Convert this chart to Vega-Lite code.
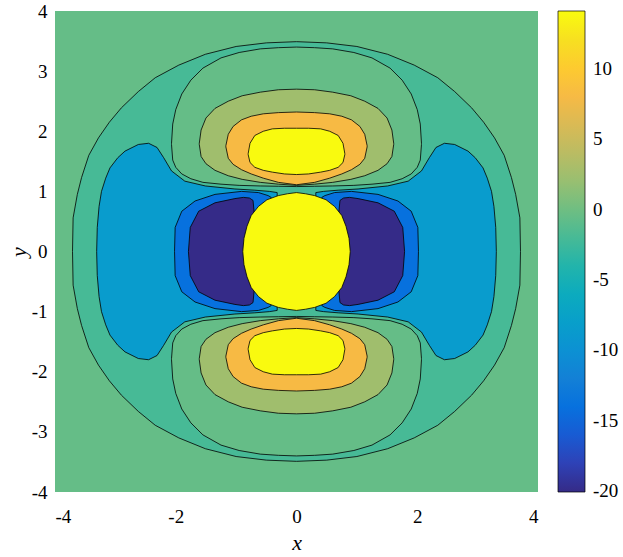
{
"$schema": "https://vega.github.io/schema/vega-lite/v6.json",
"autosize": {"type": "none"},
"padding": {"left": 55, "top": 11, "right": 85, "bottom": 65},
"width": 483,
"height": 481,
"background": "white",
"config": {
  "view": {"stroke": null},
  "axis": {"domain": false, "ticks": false, "grid": false, "labelFont": "Liberation Serif", "labelFontSize": 19, "labelColor": "black", "titleFont": "Liberation Serif", "titleFontStyle": "italic", "titleFontWeight": "normal", "titleFontSize": 22, "titleColor": "black", "labelExpr": "toString(datum.value)"},
  "legend": {"gradientVerticalMaxLength": 481}
},
"datasets": {
"c": [
{"g":"bg","v":-0.5,"x":-4,"y":4,"y2":-4},
{"g":"bg","v":-0.5,"x":4,"y":4,"y2":-4},

{"g":"outer","v":-2,"x":-3.71,"y":0,"y2":0},
{"g":"outer","v":-2,"x":-3.70,"y":0.56,"y2":-0.56},
{"g":"outer","v":-2,"x":-3.63,"y":0.95,"y2":-0.95},
{"g":"outer","v":-2,"x":-3.56,"y":1.23,"y2":-1.23},
{"g":"outer","v":-2,"x":-3.44,"y":1.60,"y2":-1.60},
{"g":"outer","v":-2,"x":-3.28,"y":1.89,"y2":-1.89},
{"g":"outer","v":-2,"x":-3.10,"y":2.15,"y2":-2.15},
{"g":"outer","v":-2,"x":-2.90,"y":2.39,"y2":-2.39},
{"g":"outer","v":-2,"x":-2.62,"y":2.66,"y2":-2.66},
{"g":"outer","v":-2,"x":-2.34,"y":2.89,"y2":-2.89},
{"g":"outer","v":-2,"x":-1.95,"y":3.10,"y2":-3.10},
{"g":"outer","v":-2,"x":-1.51,"y":3.28,"y2":-3.28},
{"g":"outer","v":-2,"x":-1.00,"y":3.41,"y2":-3.41},
{"g":"outer","v":-2,"x":-0.50,"y":3.47,"y2":-3.47},
{"g":"outer","v":-2,"x":0,"y":3.49,"y2":-3.49},
{"g":"outer","v":-2,"x":0.50,"y":3.47,"y2":-3.47},
{"g":"outer","v":-2,"x":1.00,"y":3.41,"y2":-3.41},
{"g":"outer","v":-2,"x":1.51,"y":3.28,"y2":-3.28},
{"g":"outer","v":-2,"x":1.95,"y":3.10,"y2":-3.10},
{"g":"outer","v":-2,"x":2.34,"y":2.89,"y2":-2.89},
{"g":"outer","v":-2,"x":2.62,"y":2.66,"y2":-2.66},
{"g":"outer","v":-2,"x":2.90,"y":2.39,"y2":-2.39},
{"g":"outer","v":-2,"x":3.10,"y":2.15,"y2":-2.15},
{"g":"outer","v":-2,"x":3.28,"y":1.89,"y2":-1.89},
{"g":"outer","v":-2,"x":3.44,"y":1.60,"y2":-1.60},
{"g":"outer","v":-2,"x":3.56,"y":1.23,"y2":-1.23},
{"g":"outer","v":-2,"x":3.63,"y":0.95,"y2":-0.95},
{"g":"outer","v":-2,"x":3.70,"y":0.56,"y2":-0.56},
{"g":"outer","v":-2,"x":3.71,"y":0,"y2":0},

{"g":"grn_t","v":-0.5,"x":-2.07,"y":1.80,"y2":1.78},
{"g":"grn_t","v":-0.5,"x":-2.05,"y":2.12,"y2":1.52},
{"g":"grn_t","v":-0.5,"x":-2.00,"y":2.36,"y2":1.40},
{"g":"grn_t","v":-0.5,"x":-1.90,"y":2.62,"y2":1.29},
{"g":"grn_t","v":-0.5,"x":-1.75,"y":2.85,"y2":1.21},
{"g":"grn_t","v":-0.5,"x":-1.55,"y":3.05,"y2":1.15},
{"g":"grn_t","v":-0.5,"x":-1.25,"y":3.22,"y2":1.12},
{"g":"grn_t","v":-0.5,"x":-0.95,"y":3.31,"y2":1.10},
{"g":"grn_t","v":-0.5,"x":-0.60,"y":3.37,"y2":1.09},
{"g":"grn_t","v":-0.5,"x":-0.30,"y":3.39,"y2":1.085},
{"g":"grn_t","v":-0.5,"x":0,"y":3.40,"y2":1.08},
{"g":"grn_t","v":-0.5,"x":0.30,"y":3.39,"y2":1.085},
{"g":"grn_t","v":-0.5,"x":0.60,"y":3.37,"y2":1.09},
{"g":"grn_t","v":-0.5,"x":0.95,"y":3.31,"y2":1.10},
{"g":"grn_t","v":-0.5,"x":1.25,"y":3.22,"y2":1.12},
{"g":"grn_t","v":-0.5,"x":1.55,"y":3.05,"y2":1.15},
{"g":"grn_t","v":-0.5,"x":1.75,"y":2.85,"y2":1.21},
{"g":"grn_t","v":-0.5,"x":1.90,"y":2.62,"y2":1.29},
{"g":"grn_t","v":-0.5,"x":2.00,"y":2.36,"y2":1.40},
{"g":"grn_t","v":-0.5,"x":2.05,"y":2.12,"y2":1.52},
{"g":"grn_t","v":-0.5,"x":2.07,"y":1.80,"y2":1.78},

{"g":"grn_b","v":-0.5,"x":-2.07,"y":-1.78,"y2":-1.80},
{"g":"grn_b","v":-0.5,"x":-2.05,"y":-1.52,"y2":-2.12},
{"g":"grn_b","v":-0.5,"x":-2.00,"y":-1.40,"y2":-2.36},
{"g":"grn_b","v":-0.5,"x":-1.90,"y":-1.29,"y2":-2.62},
{"g":"grn_b","v":-0.5,"x":-1.75,"y":-1.21,"y2":-2.85},
{"g":"grn_b","v":-0.5,"x":-1.55,"y":-1.15,"y2":-3.05},
{"g":"grn_b","v":-0.5,"x":-1.25,"y":-1.12,"y2":-3.22},
{"g":"grn_b","v":-0.5,"x":-0.95,"y":-1.10,"y2":-3.31},
{"g":"grn_b","v":-0.5,"x":-0.60,"y":-1.09,"y2":-3.37},
{"g":"grn_b","v":-0.5,"x":-0.30,"y":-1.085,"y2":-3.39},
{"g":"grn_b","v":-0.5,"x":0,"y":-1.08,"y2":-3.40},
{"g":"grn_b","v":-0.5,"x":0.30,"y":-1.085,"y2":-3.39},
{"g":"grn_b","v":-0.5,"x":0.60,"y":-1.09,"y2":-3.37},
{"g":"grn_b","v":-0.5,"x":0.95,"y":-1.10,"y2":-3.31},
{"g":"grn_b","v":-0.5,"x":1.25,"y":-1.12,"y2":-3.22},
{"g":"grn_b","v":-0.5,"x":1.55,"y":-1.15,"y2":-3.05},
{"g":"grn_b","v":-0.5,"x":1.75,"y":-1.21,"y2":-2.85},
{"g":"grn_b","v":-0.5,"x":1.90,"y":-1.29,"y2":-2.62},
{"g":"grn_b","v":-0.5,"x":2.00,"y":-1.40,"y2":-2.36},
{"g":"grn_b","v":-0.5,"x":2.05,"y":-1.52,"y2":-2.12},
{"g":"grn_b","v":-0.5,"x":2.07,"y":-1.78,"y2":-1.80},

{"g":"olv_t","v":2.5,"x":-1.61,"y":1.80,"y2":1.78},
{"g":"olv_t","v":2.5,"x":-1.58,"y":2.02,"y2":1.58},
{"g":"olv_t","v":2.5,"x":-1.50,"y":2.22,"y2":1.46},
{"g":"olv_t","v":2.5,"x":-1.35,"y":2.38,"y2":1.35},
{"g":"olv_t","v":2.5,"x":-1.13,"y":2.50,"y2":1.26},
{"g":"olv_t","v":2.5,"x":-0.90,"y":2.59,"y2":1.20},
{"g":"olv_t","v":2.5,"x":-0.60,"y":2.65,"y2":1.15},
{"g":"olv_t","v":2.5,"x":-0.30,"y":2.69,"y2":1.12},
{"g":"olv_t","v":2.5,"x":0,"y":2.70,"y2":1.10},
{"g":"olv_t","v":2.5,"x":0.30,"y":2.69,"y2":1.12},
{"g":"olv_t","v":2.5,"x":0.60,"y":2.65,"y2":1.15},
{"g":"olv_t","v":2.5,"x":0.90,"y":2.59,"y2":1.20},
{"g":"olv_t","v":2.5,"x":1.13,"y":2.50,"y2":1.26},
{"g":"olv_t","v":2.5,"x":1.35,"y":2.38,"y2":1.35},
{"g":"olv_t","v":2.5,"x":1.50,"y":2.22,"y2":1.46},
{"g":"olv_t","v":2.5,"x":1.58,"y":2.02,"y2":1.58},
{"g":"olv_t","v":2.5,"x":1.61,"y":1.80,"y2":1.78},

{"g":"olv_b","v":2.5,"x":-1.61,"y":-1.78,"y2":-1.80},
{"g":"olv_b","v":2.5,"x":-1.58,"y":-1.58,"y2":-2.02},
{"g":"olv_b","v":2.5,"x":-1.50,"y":-1.46,"y2":-2.22},
{"g":"olv_b","v":2.5,"x":-1.35,"y":-1.35,"y2":-2.38},
{"g":"olv_b","v":2.5,"x":-1.13,"y":-1.26,"y2":-2.50},
{"g":"olv_b","v":2.5,"x":-0.90,"y":-1.20,"y2":-2.59},
{"g":"olv_b","v":2.5,"x":-0.60,"y":-1.15,"y2":-2.65},
{"g":"olv_b","v":2.5,"x":-0.30,"y":-1.12,"y2":-2.69},
{"g":"olv_b","v":2.5,"x":0,"y":-1.10,"y2":-2.70},
{"g":"olv_b","v":2.5,"x":0.30,"y":-1.12,"y2":-2.69},
{"g":"olv_b","v":2.5,"x":0.60,"y":-1.15,"y2":-2.65},
{"g":"olv_b","v":2.5,"x":0.90,"y":-1.20,"y2":-2.59},
{"g":"olv_b","v":2.5,"x":1.13,"y":-1.26,"y2":-2.50},
{"g":"olv_b","v":2.5,"x":1.35,"y":-1.35,"y2":-2.38},
{"g":"olv_b","v":2.5,"x":1.50,"y":-1.46,"y2":-2.22},
{"g":"olv_b","v":2.5,"x":1.58,"y":-1.58,"y2":-2.02},
{"g":"olv_b","v":2.5,"x":1.61,"y":-1.78,"y2":-1.80},

{"g":"org_t","v":8.1,"x":-1.17,"y":1.76,"y2":1.74},
{"g":"org_t","v":8.1,"x":-1.13,"y":1.95,"y2":1.55},
{"g":"org_t","v":8.1,"x":-1.05,"y":2.08,"y2":1.45},
{"g":"org_t","v":8.1,"x":-0.91,"y":2.19,"y2":1.36},
{"g":"org_t","v":8.1,"x":-0.75,"y":2.25,"y2":1.29},
{"g":"org_t","v":8.1,"x":-0.55,"y":2.29,"y2":1.22},
{"g":"org_t","v":8.1,"x":-0.30,"y":2.31,"y2":1.15},
{"g":"org_t","v":8.1,"x":0,"y":2.32,"y2":1.11},
{"g":"org_t","v":8.1,"x":0.30,"y":2.31,"y2":1.15},
{"g":"org_t","v":8.1,"x":0.55,"y":2.29,"y2":1.22},
{"g":"org_t","v":8.1,"x":0.75,"y":2.25,"y2":1.29},
{"g":"org_t","v":8.1,"x":0.91,"y":2.19,"y2":1.36},
{"g":"org_t","v":8.1,"x":1.05,"y":2.08,"y2":1.45},
{"g":"org_t","v":8.1,"x":1.13,"y":1.95,"y2":1.55},
{"g":"org_t","v":8.1,"x":1.17,"y":1.76,"y2":1.74},

{"g":"org_b","v":8.1,"x":-1.17,"y":-1.74,"y2":-1.76},
{"g":"org_b","v":8.1,"x":-1.13,"y":-1.55,"y2":-1.95},
{"g":"org_b","v":8.1,"x":-1.05,"y":-1.45,"y2":-2.08},
{"g":"org_b","v":8.1,"x":-0.91,"y":-1.36,"y2":-2.19},
{"g":"org_b","v":8.1,"x":-0.75,"y":-1.29,"y2":-2.25},
{"g":"org_b","v":8.1,"x":-0.55,"y":-1.22,"y2":-2.29},
{"g":"org_b","v":8.1,"x":-0.30,"y":-1.15,"y2":-2.31},
{"g":"org_b","v":8.1,"x":0,"y":-1.11,"y2":-2.32},
{"g":"org_b","v":8.1,"x":0.30,"y":-1.15,"y2":-2.31},
{"g":"org_b","v":8.1,"x":0.55,"y":-1.22,"y2":-2.29},
{"g":"org_b","v":8.1,"x":0.75,"y":-1.29,"y2":-2.25},
{"g":"org_b","v":8.1,"x":0.91,"y":-1.36,"y2":-2.19},
{"g":"org_b","v":8.1,"x":1.05,"y":-1.45,"y2":-2.08},
{"g":"org_b","v":8.1,"x":1.13,"y":-1.55,"y2":-1.95},
{"g":"org_b","v":8.1,"x":1.17,"y":-1.74,"y2":-1.76},

{"g":"ylw_t","v":14,"x":-0.80,"y":1.63,"y2":1.61},
{"g":"ylw_t","v":14,"x":-0.77,"y":1.80,"y2":1.48},
{"g":"ylw_t","v":14,"x":-0.69,"y":1.93,"y2":1.40},
{"g":"ylw_t","v":14,"x":-0.55,"y":2.00,"y2":1.35},
{"g":"ylw_t","v":14,"x":-0.40,"y":2.04,"y2":1.32},
{"g":"ylw_t","v":14,"x":-0.20,"y":2.05,"y2":1.29},
{"g":"ylw_t","v":14,"x":0,"y":2.05,"y2":1.28},
{"g":"ylw_t","v":14,"x":0.20,"y":2.05,"y2":1.29},
{"g":"ylw_t","v":14,"x":0.40,"y":2.04,"y2":1.32},
{"g":"ylw_t","v":14,"x":0.55,"y":2.00,"y2":1.35},
{"g":"ylw_t","v":14,"x":0.69,"y":1.93,"y2":1.40},
{"g":"ylw_t","v":14,"x":0.77,"y":1.80,"y2":1.48},
{"g":"ylw_t","v":14,"x":0.80,"y":1.63,"y2":1.61},

{"g":"ylw_b","v":14,"x":-0.80,"y":-1.61,"y2":-1.63},
{"g":"ylw_b","v":14,"x":-0.77,"y":-1.48,"y2":-1.80},
{"g":"ylw_b","v":14,"x":-0.69,"y":-1.40,"y2":-1.93},
{"g":"ylw_b","v":14,"x":-0.55,"y":-1.35,"y2":-2.00},
{"g":"ylw_b","v":14,"x":-0.40,"y":-1.32,"y2":-2.04},
{"g":"ylw_b","v":14,"x":-0.20,"y":-1.29,"y2":-2.05},
{"g":"ylw_b","v":14,"x":0,"y":-1.28,"y2":-2.05},
{"g":"ylw_b","v":14,"x":0.20,"y":-1.29,"y2":-2.05},
{"g":"ylw_b","v":14,"x":0.40,"y":-1.32,"y2":-2.04},
{"g":"ylw_b","v":14,"x":0.55,"y":-1.35,"y2":-2.00},
{"g":"ylw_b","v":14,"x":0.69,"y":-1.40,"y2":-1.93},
{"g":"ylw_b","v":14,"x":0.77,"y":-1.48,"y2":-1.80},
{"g":"ylw_b","v":14,"x":0.80,"y":-1.61,"y2":-1.63},

{"g":"lb_l","v":-8.5,"x":-3.31,"y":0,"y2":0},
{"g":"lb_l","v":-8.5,"x":-3.30,"y":0.40,"y2":-0.40},
{"g":"lb_l","v":-8.5,"x":-3.27,"y":0.75,"y2":-0.75},
{"g":"lb_l","v":-8.5,"x":-3.23,"y":1.00,"y2":-1.00},
{"g":"lb_l","v":-8.5,"x":-3.16,"y":1.22,"y2":-1.22},
{"g":"lb_l","v":-8.5,"x":-3.09,"y":1.39,"y2":-1.39},
{"g":"lb_l","v":-8.5,"x":-2.96,"y":1.56,"y2":-1.56},
{"g":"lb_l","v":-8.5,"x":-2.84,"y":1.67,"y2":-1.67},
{"g":"lb_l","v":-8.5,"x":-2.62,"y":1.78,"y2":-1.78},
{"g":"lb_l","v":-8.5,"x":-2.45,"y":1.80,"y2":-1.80},
{"g":"lb_l","v":-8.5,"x":-2.31,"y":1.73,"y2":-1.73},
{"g":"lb_l","v":-8.5,"x":-2.20,"y":1.56,"y2":-1.56},
{"g":"lb_l","v":-8.5,"x":-2.07,"y":1.34,"y2":-1.34},
{"g":"lb_l","v":-8.5,"x":-1.85,"y":1.17,"y2":-1.17},
{"g":"lb_l","v":-8.5,"x":-1.51,"y":1.09,"y2":-1.09},
{"g":"lb_l","v":-8.5,"x":-1.02,"y":1.04,"y2":-1.04},
{"g":"lb_l","v":-8.5,"x":-0.69,"y":1.02,"y2":-1.02},
{"g":"lb_l","v":-8.5,"x":-0.45,"y":1.00,"y2":-1.00},
{"g":"lb_l","v":-8.5,"x":-0.32,"y":0.98,"y2":-0.98},

{"g":"lb_r","v":-8.5,"x":0.32,"y":0.98,"y2":-0.98},
{"g":"lb_r","v":-8.5,"x":0.45,"y":1.00,"y2":-1.00},
{"g":"lb_r","v":-8.5,"x":0.69,"y":1.02,"y2":-1.02},
{"g":"lb_r","v":-8.5,"x":1.02,"y":1.04,"y2":-1.04},
{"g":"lb_r","v":-8.5,"x":1.51,"y":1.09,"y2":-1.09},
{"g":"lb_r","v":-8.5,"x":1.85,"y":1.17,"y2":-1.17},
{"g":"lb_r","v":-8.5,"x":2.07,"y":1.34,"y2":-1.34},
{"g":"lb_r","v":-8.5,"x":2.20,"y":1.56,"y2":-1.56},
{"g":"lb_r","v":-8.5,"x":2.31,"y":1.73,"y2":-1.73},
{"g":"lb_r","v":-8.5,"x":2.45,"y":1.80,"y2":-1.80},
{"g":"lb_r","v":-8.5,"x":2.62,"y":1.78,"y2":-1.78},
{"g":"lb_r","v":-8.5,"x":2.84,"y":1.67,"y2":-1.67},
{"g":"lb_r","v":-8.5,"x":2.96,"y":1.56,"y2":-1.56},
{"g":"lb_r","v":-8.5,"x":3.09,"y":1.39,"y2":-1.39},
{"g":"lb_r","v":-8.5,"x":3.16,"y":1.22,"y2":-1.22},
{"g":"lb_r","v":-8.5,"x":3.23,"y":1.00,"y2":-1.00},
{"g":"lb_r","v":-8.5,"x":3.27,"y":0.75,"y2":-0.75},
{"g":"lb_r","v":-8.5,"x":3.30,"y":0.40,"y2":-0.40},
{"g":"lb_r","v":-8.5,"x":3.31,"y":0,"y2":0},

{"g":"bl_l","v":-14,"x":-2.02,"y":0,"y2":0},
{"g":"bl_l","v":-14,"x":-2.01,"y":0.40,"y2":-0.40},
{"g":"bl_l","v":-14,"x":-1.90,"y":0.67,"y2":-0.67},
{"g":"bl_l","v":-14,"x":-1.68,"y":0.84,"y2":-0.84},
{"g":"bl_l","v":-14,"x":-1.35,"y":0.95,"y2":-0.95},
{"g":"bl_l","v":-14,"x":-0.91,"y":1.00,"y2":-1.00},
{"g":"bl_l","v":-14,"x":-0.63,"y":0.98,"y2":-0.98},
{"g":"bl_l","v":-14,"x":-0.47,"y":0.93,"y2":-0.93},
{"g":"bl_l","v":-14,"x":-0.42,"y":0.90,"y2":-0.90},

{"g":"bl_r","v":-14,"x":0.42,"y":0.90,"y2":-0.90},
{"g":"bl_r","v":-14,"x":0.47,"y":0.93,"y2":-0.93},
{"g":"bl_r","v":-14,"x":0.63,"y":0.98,"y2":-0.98},
{"g":"bl_r","v":-14,"x":0.91,"y":1.00,"y2":-1.00},
{"g":"bl_r","v":-14,"x":1.35,"y":0.95,"y2":-0.95},
{"g":"bl_r","v":-14,"x":1.68,"y":0.84,"y2":-0.84},
{"g":"bl_r","v":-14,"x":1.90,"y":0.67,"y2":-0.67},
{"g":"bl_r","v":-14,"x":2.01,"y":0.40,"y2":-0.40},
{"g":"bl_r","v":-14,"x":2.02,"y":0,"y2":0},

{"g":"pu_l","v":-20,"x":-1.79,"y":0,"y2":0},
{"g":"pu_l","v":-20,"x":-1.76,"y":0.40,"y2":-0.40},
{"g":"pu_l","v":-20,"x":-1.62,"y":0.67,"y2":-0.67},
{"g":"pu_l","v":-20,"x":-1.35,"y":0.81,"y2":-0.81},
{"g":"pu_l","v":-20,"x":-1.02,"y":0.88,"y2":-0.88},
{"g":"pu_l","v":-20,"x":-0.88,"y":0.90,"y2":-0.90},
{"g":"pu_l","v":-20,"x":-0.78,"y":0.89,"y2":-0.89},
{"g":"pu_l","v":-20,"x":-0.72,"y":0.85,"y2":-0.85},
{"g":"pu_l","v":-20,"x":-0.70,"y":0.64,"y2":-0.64},
{"g":"pu_l","v":-20,"x":-0.66,"y":0.66,"y2":-0.66},

{"g":"pu_r","v":-20,"x":0.66,"y":0.66,"y2":-0.66},
{"g":"pu_r","v":-20,"x":0.70,"y":0.64,"y2":-0.64},
{"g":"pu_r","v":-20,"x":0.72,"y":0.85,"y2":-0.85},
{"g":"pu_r","v":-20,"x":0.78,"y":0.89,"y2":-0.89},
{"g":"pu_r","v":-20,"x":0.88,"y":0.90,"y2":-0.90},
{"g":"pu_r","v":-20,"x":1.02,"y":0.88,"y2":-0.88},
{"g":"pu_r","v":-20,"x":1.35,"y":0.81,"y2":-0.81},
{"g":"pu_r","v":-20,"x":1.62,"y":0.67,"y2":-0.67},
{"g":"pu_r","v":-20,"x":1.76,"y":0.40,"y2":-0.40},
{"g":"pu_r","v":-20,"x":1.79,"y":0,"y2":0},

{"g":"ctr","v":14,"x":-0.89,"y":0,"y2":0},
{"g":"ctr","v":14,"x":-0.87,"y":0.22,"y2":-0.22},
{"g":"ctr","v":14,"x":-0.82,"y":0.42,"y2":-0.42},
{"g":"ctr","v":14,"x":-0.75,"y":0.60,"y2":-0.60},
{"g":"ctr","v":14,"x":-0.63,"y":0.75,"y2":-0.75},
{"g":"ctr","v":14,"x":-0.49,"y":0.86,"y2":-0.86},
{"g":"ctr","v":14,"x":-0.30,"y":0.93,"y2":-0.93},
{"g":"ctr","v":14,"x":-0.15,"y":0.96,"y2":-0.96},
{"g":"ctr","v":14,"x":0,"y":0.98,"y2":-0.98},
{"g":"ctr","v":14,"x":0.15,"y":0.96,"y2":-0.96},
{"g":"ctr","v":14,"x":0.30,"y":0.93,"y2":-0.93},
{"g":"ctr","v":14,"x":0.49,"y":0.86,"y2":-0.86},
{"g":"ctr","v":14,"x":0.63,"y":0.75,"y2":-0.75},
{"g":"ctr","v":14,"x":0.75,"y":0.60,"y2":-0.60},
{"g":"ctr","v":14,"x":0.82,"y":0.42,"y2":-0.42},
{"g":"ctr","v":14,"x":0.87,"y":0.22,"y2":-0.22},
{"g":"ctr","v":14,"x":0.89,"y":0,"y2":0}
]
},
"data": {"name": "c"},
"encoding": {
  "x": {"field": "x", "type": "quantitative", "scale": {"domain": [-4, 4], "nice": false, "zero": false}, "axis": {"title": "x", "values": [-4, -2, 0, 2, 4], "labelPadding": 15, "titlePadding": 6}},
  "y": {"field": "y", "type": "quantitative", "scale": {"domain": [-4, 4], "nice": false, "zero": false}, "axis": {"title": "y", "values": [-4, -3, -2, -1, 0, 1, 2, 3, 4], "labelPadding": 8, "titlePadding": 1}},
  "y2": {"field": "y2"},
  "detail": {"field": "g"},
  "color": {"field": "v", "type": "quantitative",
    "scale": {"domain": [-20.05, -17.294, -14.587, -11.881, -9.175, -6.468, -3.762, -1.056, 1.651, 4.357, 7.064, 8.146, 9.770, 12.476, 14.1],
              "range": ["#352A87", "#2B4AC7", "#046DE0", "#1481D6", "#0998D1", "#07A9C2", "#25B5A9", "#59BD8C", "#92BF73", "#C0BC60", "#E9B94E", "#F8BA44", "#FEC832", "#F5E41D", "#F9FB0E"],
              "interpolate": "rgb"},
    "legend": {"orient": "none", "legendX": 503, "legendY": 0, "direction": "vertical", "title": null, "gradientLength": 481, "gradientThickness": 27, "values": [-20, -15, -10, -5, 0, 5, 10], "labelExpr": "toString(datum.value)", "labelFont": "Liberation Serif", "labelFontSize": 19, "labelColor": "black", "labelOffset": 8, "labelOverlap": false, "labelBaseline": "middle", "gradientStrokeColor": "black", "gradientStrokeWidth": 0.7}}
},
"layer": [
  {"transform": [{"filter": {"field": "g", "oneOf": ["bg"]}}], "mark": {"type": "area", "orient": "vertical", "opacity": 1, "strokeWidth": 0}},
  {"transform": [{"filter": {"field": "g", "oneOf": ["outer"]}}], "mark": {"type": "area", "orient": "vertical", "opacity": 1, "stroke": "black", "strokeWidth": 0.8, "strokeJoin": "round"}},
  {"transform": [{"filter": {"field": "g", "oneOf": ["grn_t", "grn_b"]}}], "mark": {"type": "area", "orient": "vertical", "opacity": 1, "stroke": "black", "strokeWidth": 0.8, "strokeJoin": "round"}},
  {"transform": [{"filter": {"field": "g", "oneOf": ["olv_t", "olv_b"]}}], "mark": {"type": "area", "orient": "vertical", "opacity": 1, "stroke": "black", "strokeWidth": 0.8, "strokeJoin": "round"}},
  {"transform": [{"filter": {"field": "g", "oneOf": ["org_t", "org_b"]}}], "mark": {"type": "area", "orient": "vertical", "opacity": 1, "stroke": "black", "strokeWidth": 0.8, "strokeJoin": "round"}},
  {"transform": [{"filter": {"field": "g", "oneOf": ["ylw_t", "ylw_b"]}}], "mark": {"type": "area", "orient": "vertical", "opacity": 1, "stroke": "black", "strokeWidth": 0.8, "strokeJoin": "round"}},
  {"transform": [{"filter": {"field": "g", "oneOf": ["lb_l", "lb_r"]}}], "mark": {"type": "area", "orient": "vertical", "opacity": 1, "stroke": "black", "strokeWidth": 0.8, "strokeJoin": "round"}},
  {"transform": [{"filter": {"field": "g", "oneOf": ["bl_l", "bl_r"]}}], "mark": {"type": "area", "orient": "vertical", "opacity": 1, "stroke": "black", "strokeWidth": 0.8, "strokeJoin": "round"}},
  {"transform": [{"filter": {"field": "g", "oneOf": ["pu_l", "pu_r"]}}], "mark": {"type": "area", "orient": "vertical", "opacity": 1, "stroke": "black", "strokeWidth": 0.8, "strokeJoin": "round"}},
  {"transform": [{"filter": {"field": "g", "oneOf": ["ctr"]}}], "mark": {"type": "area", "orient": "vertical", "opacity": 1, "stroke": "black", "strokeWidth": 0.8, "strokeJoin": "round"}}
]
}
